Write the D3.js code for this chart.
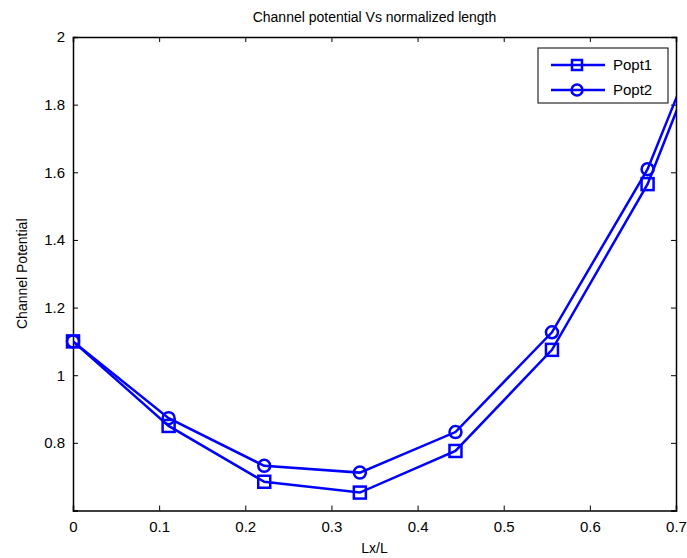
<html>
<head>
<style>
  body { margin: 0; background: #fff; }
  text { font-family: "Liberation Sans", Arial, sans-serif; fill: #000; }
</style>
</head>
<body>
<div id="chart"></div>
<script src="https://d3js.org/d3.v7.min.js"></script>
<script>
var xs = [0, 0.111, 0.222, 0.333, 0.444, 0.556, 0.667, 0.778];
var popt1 = [1.1, 0.850, 0.685, 0.653, 0.776, 1.075, 1.565, 2.28];
var popt2 = [1.1, 0.873, 0.732, 0.712, 0.832, 1.127, 1.609, 2.31];
var seriesNames = ["Popt1", "Popt2"];
var xTicks = [0, 0.1, 0.2, 0.3, 0.4, 0.5, 0.6, 0.7];
var yTicks = [0.8, 1, 1.2, 1.4, 1.6, 1.8, 2];

var width = 687, height = 558;
var pLeft = 73, pRight = 676, pTop = 37, pBottom = 510.5;

var svg = d3.select("#chart").append("svg")
  .attr("width", width).attr("height", height);

var x = d3.scaleLinear().domain([0, 0.7]).range([pLeft, pRight]);
var y = d3.scaleLinear().domain([0.6, 2]).range([pBottom, pTop]);

svg.append("defs").append("clipPath").attr("id", "clip")
  .append("rect").attr("x", pLeft).attr("y", pTop)
  .attr("width", pRight - pLeft).attr("height", pBottom - pTop);

// axes box with inward ticks
var fmt = function(d) { return String(+d.toFixed(2)); };
svg.append("g").attr("transform", "translate(0," + pBottom + ")")
  .call(d3.axisBottom(x).tickValues(xTicks).tickSize(-5).tickPadding(11).tickFormat(fmt));
svg.append("g").attr("transform", "translate(0," + pTop + ")")
  .call(d3.axisTop(x).tickValues(xTicks).tickSize(-5).tickFormat(""));
svg.append("g").attr("transform", "translate(" + pLeft + ",0)")
  .call(d3.axisLeft(y).tickValues(yTicks).tickSize(-5).tickPadding(8).tickFormat(fmt));
svg.append("g").attr("transform", "translate(" + pRight + ",0)")
  .call(d3.axisRight(y).tickValues(yTicks).tickSize(-5).tickFormat(""));

svg.selectAll(".domain").attr("stroke", "#000").attr("stroke-width", 1.5);
svg.selectAll(".tick line").attr("stroke", "#000");
svg.selectAll(".tick text").attr("font-size", 15).attr("font-family", "Liberation Sans, Arial, sans-serif").attr("fill", "#000");

// titles
svg.append("text").attr("x", (pLeft + pRight) / 2).attr("y", 22)
  .attr("text-anchor", "middle").attr("font-size", 14)
  .text("Channel potential Vs normalized length");
svg.append("text").attr("x", (pLeft + pRight) / 2).attr("y", 553)
  .attr("text-anchor", "middle").attr("font-size", 14).text("Lx/L");
svg.append("text").attr("transform", "translate(27," + ((pTop + pBottom) / 2) + ") rotate(-90)")
  .attr("text-anchor", "middle").attr("font-size", 14).text("Channel Potential");

var blue = "#0000ff";
var line = d3.line().x(function(d, i) { return x(xs[i]); }).y(function(d) { return y(d); });

[popt1, popt2].forEach(function(vals, k) {
  svg.append("path").datum(vals)
    .attr("clip-path", "url(#clip)")
    .attr("d", line).attr("fill", "none")
    .attr("stroke", blue).attr("stroke-width", 2.5);
  var pts = vals.map(function(v, i) { return [xs[i], v]; })
    .filter(function(p) { return p[0] <= 0.7; });
  if (k === 0) {
    svg.selectAll(".sq").data(pts).enter().append("rect")
      .attr("x", function(d) { return x(d[0]) - 6; })
      .attr("y", function(d) { return y(d[1]) - 6; })
      .attr("width", 12).attr("height", 12)
      .attr("fill", "none").attr("stroke", blue).attr("stroke-width", 2.5);
  } else {
    svg.selectAll(".ci").data(pts).enter().append("circle")
      .attr("cx", function(d) { return x(d[0]); })
      .attr("cy", function(d) { return y(d[1]); })
      .attr("r", 6)
      .attr("fill", "none").attr("stroke", blue).attr("stroke-width", 2.5);
  }
});

// legend
var lg = svg.append("g");
lg.append("rect").attr("x", 538).attr("y", 48).attr("width", 130).attr("height", 55)
  .attr("fill", "#fff").attr("stroke", "#000").attr("stroke-width", 1);
seriesNames.forEach(function(name, k) {
  var ly = 65 + k * 25;
  lg.append("line").attr("x1", 551).attr("x2", 605).attr("y1", ly).attr("y2", ly)
    .attr("stroke", blue).attr("stroke-width", 2.5);
  if (k === 0) {
    lg.append("rect").attr("x", 572).attr("y", ly - 5).attr("width", 10).attr("height", 10)
      .attr("fill", "none").attr("stroke", blue).attr("stroke-width", 2.5);
  } else {
    lg.append("circle").attr("cx", 577).attr("cy", ly).attr("r", 5.5)
      .attr("fill", "none").attr("stroke", blue).attr("stroke-width", 2.5);
  }
  lg.append("text").attr("x", 613).attr("y", ly + 5).attr("font-size", 15).text(name);
});
</script>
</body>
</html>
